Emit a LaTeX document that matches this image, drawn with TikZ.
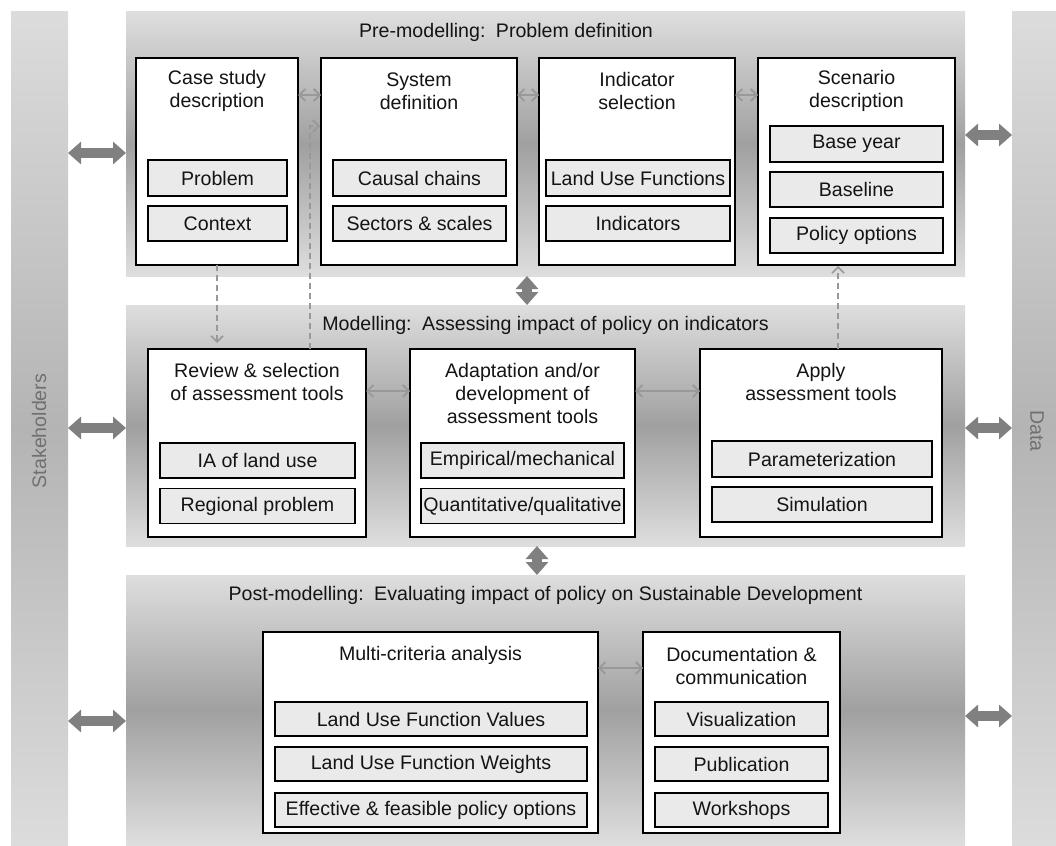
\documentclass[tikz,border=0pt]{standalone}
\usepackage{fontspec}
\setmainfont{Liberation Sans}
\usetikzlibrary{arrows.meta}
\definecolor{pl}{HTML}{DEDEDE}
\definecolor{pd}{HTML}{A0A0A0}
\definecolor{bl}{HTML}{DCDCDC}
\definecolor{bd}{HTML}{B4B4B4}
\definecolor{subfill}{HTML}{EAEAEA}
\definecolor{biggray}{HTML}{808080}
\definecolor{thingray}{HTML}{999999}
\definecolor{sidetext}{HTML}{707070}
\definecolor{txt}{HTML}{141414}
\newcommand\myfs{\fontsize{19.6}{23}\selectfont}
\tikzset{
  panel/.style={draw=none, top color=pl, bottom color=pl, middle color=pd, inner sep=0pt, outer sep=0pt},
  sidebar/.style={draw=none, top color=bl, bottom color=bl, middle color=bd, inner sep=0pt, outer sep=0pt},
  ibox/.style={draw=black, line width=1.5pt, fill=white, inner sep=0pt, outer sep=0pt},
  sbox/.style={draw=black, line width=1.5pt, fill=subfill, inner sep=0pt, outer sep=0pt, font=\myfs, text=txt},
  ttl/.style={align=center, font=\myfs, inner sep=0pt, text=txt},
  sidelbl/.style={font=\myfs, text=sidetext, inner sep=0pt},
  bigarrow/.style={draw=biggray, line width=10pt, {Triangle[length=13pt,width=22pt]}-{Triangle[length=13pt,width=22pt]}},
  thinarrow/.style={draw=thingray, line width=1.8pt, {Straight Barb[length=6pt,width=12pt]}-{Straight Barb[length=6pt,width=12pt]}},
  dasharrow/.style={draw=thingray, line width=1.6pt, dash pattern=on 6pt off 4pt, -{Straight Barb[length=6pt,width=12pt]}},
}
\begin{document}
\begin{tikzpicture}[x=1pt,y=-1pt]
\useasboundingbox (0,0) rectangle (1056,845);

% side bars
\node[sidebar, minimum width=57, minimum height=833] (stake) at (39.5,428.5) {};
\node[sidebar, minimum width=57, minimum height=833] (data) at (1040.5,428.5) {};
\node[sidelbl, rotate=90] (stakelbl) at (39,431) {Stakeholders};
\node[sidelbl, rotate=-90] (datalbl) at (1037,431) {Data};

% panels
\node[panel, minimum width=839, minimum height=264] (pre) at (545.5,144) {};
\node[panel, minimum width=839, minimum height=241] (mod) at (545.5,425.5) {};
\node[panel, minimum width=839, minimum height=270] (post) at (545.5,710) {};

\node[ttl] (pretitle) at (506,32) {Pre-modelling:\, Problem definition};
\node[ttl] (modtitle) at (545.5,325) {Modelling:\, Assessing impact of policy on indicators};
\node[ttl] (posttitle) at (545.5,595) {Post-modelling:\, Evaluating impact of policy on Sustainable Development};

% big arrows
\draw[bigarrow] (stake.east |- 0,153) -- (pre.west |- 0,153);
\draw[bigarrow] (stake.east |- 0,428) -- (mod.west |- 0,428);
\draw[bigarrow] (stake.east |- 0,721) -- (post.west |- 0,721);
\draw[bigarrow] (pre.east |- 0,135) -- (data.west |- 0,135);
\draw[bigarrow] (mod.east |- 0,428) -- (data.west |- 0,428);
\draw[bigarrow] (post.east |- 0,716) -- (data.west |- 0,716);
\draw[bigarrow] (pre.south -| 527,0) -- (mod.north -| 527,0);
\draw[bigarrow] (mod.south -| 537,0) -- (post.north -| 537,0);

% pre-modelling boxes
\node[ibox, minimum width=162, minimum height=207] (cs) at (217,161.5) {};
\node[ibox, minimum width=196, minimum height=207] (sd) at (419,161.5) {};
\node[ibox, minimum width=196, minimum height=207] (is) at (637,161.5) {};
\node[ibox, minimum width=197, minimum height=207] (sc) at (856.5,161.5) {};
\node[ttl] (cst) at (217,91) {Case study\\description};
\node[ttl] (sdt) at (419,91) {System\\definition};
\node[ttl] (ist) at (637,91) {Indicator\\selection};
\node[ttl] (sct) at (856.5,91) {Scenario\\description};
\node[sbox, minimum width=139, minimum height=36] (prob) at (217.5,178) {Problem};
\node[sbox, minimum width=139, minimum height=35] (ctx) at (217.5,223.5) {Context};
\node[sbox, minimum width=173, minimum height=36] (cc) at (419.5,178) {Causal chains};
\node[sbox, minimum width=173, minimum height=35] (ss) at (419.5,223.5) {Sectors \& scales};
\node[sbox, minimum width=184, minimum height=36] (luf) at (638,178) {Land Use Functions};
\node[sbox, minimum width=184, minimum height=35] (ind) at (638,223.5) {Indicators};
\node[sbox, minimum width=173, minimum height=36] (by) at (856.5,144) {Base year};
\node[sbox, minimum width=173, minimum height=35] (bl) at (856.5,189.5) {Baseline};
\node[sbox, minimum width=173, minimum height=35] (po) at (856.5,235.5) {Policy options};

% modelling boxes
\node[ibox, minimum width=218, minimum height=188] (rv) at (257,443) {};
\node[ibox, minimum width=225, minimum height=188] (ad) at (522.5,443) {};
\node[ibox, minimum width=242, minimum height=188] (ap) at (821,443) {};
\node[ttl] (rvt) at (257,381.5) {Review \& selection\\of assessment tools};
\node[ttl] (adt) at (522.5,393) {Adaptation and/or\\development of\\assessment tools};
\node[ttl] (apt) at (821,381.5) {Apply\\assessment tools};
\node[sbox, minimum width=195, minimum height=35] (ia) at (257.5,460.5) {IA of land use};
\node[sbox, minimum width=195, minimum height=35] (rp) at (257.5,506) {Regional problem};
\node[sbox, minimum width=203, minimum height=35] (em) at (522.5,460.5) {Empirical/mechanical};
\node[sbox, minimum width=203, minimum height=35] (qq) at (522.5,506) {Quantitative/qualitative};
\node[sbox, minimum width=220, minimum height=36] (pa) at (822,459) {Parameterization};
\node[sbox, minimum width=220, minimum height=35] (si) at (822,504.5) {Simulation};

% post-modelling boxes
\node[ibox, minimum width=335, minimum height=201] (mc) at (430.5,732.5) {};
\node[ibox, minimum width=197, minimum height=201] (dc) at (741.5,732.5) {};
\node[ttl] (mct) at (430.5,655) {Multi-criteria analysis};
\node[ttl] (dct) at (741.5,666) {Documentation \&\\communication};
\node[sbox, minimum width=312, minimum height=34] (lv) at (431,719) {Land Use Function Values};
\node[sbox, minimum width=312, minimum height=34] (lw) at (431,764) {Land Use Function Weights};
\node[sbox, minimum width=312, minimum height=34] (ef) at (431,810) {Effective \& feasible policy options};
\node[sbox, minimum width=173, minimum height=34] (vi) at (741.5,719) {Visualization};
\node[sbox, minimum width=173, minimum height=34] (pu) at (741.5,764) {Publication};
\node[sbox, minimum width=173, minimum height=34] (ws) at (741.5,810) {Workshops};

% thin double arrows
\draw[thinarrow] (cs.east |- 0,95) -- (sd.west |- 0,95);
\draw[thinarrow] (sd.east |- 0,95) -- (is.west |- 0,95);
\draw[thinarrow] (is.east |- 0,95) -- (sc.west |- 0,95);
\draw[thinarrow] (rv.east |- 0,391) -- (ad.west |- 0,391);
\draw[thinarrow] (ad.east |- 0,391) -- (ap.west |- 0,391);
\draw[thinarrow] (mc.east |- 0,668) -- (dc.west |- 0,668);

% dashed arrows
\draw[dasharrow, shorten >=6pt] (cs.south) -- (cs.south |- rv.north);
\draw[dasharrow, shorten >=1pt] (rv.north -| 310,0) |- (sd.west |- 0,126);
\draw[dasharrow, shorten >=1pt] (ap.north -| 838,0) -- (sc.south -| 838,0);
\end{tikzpicture}
\end{document}
